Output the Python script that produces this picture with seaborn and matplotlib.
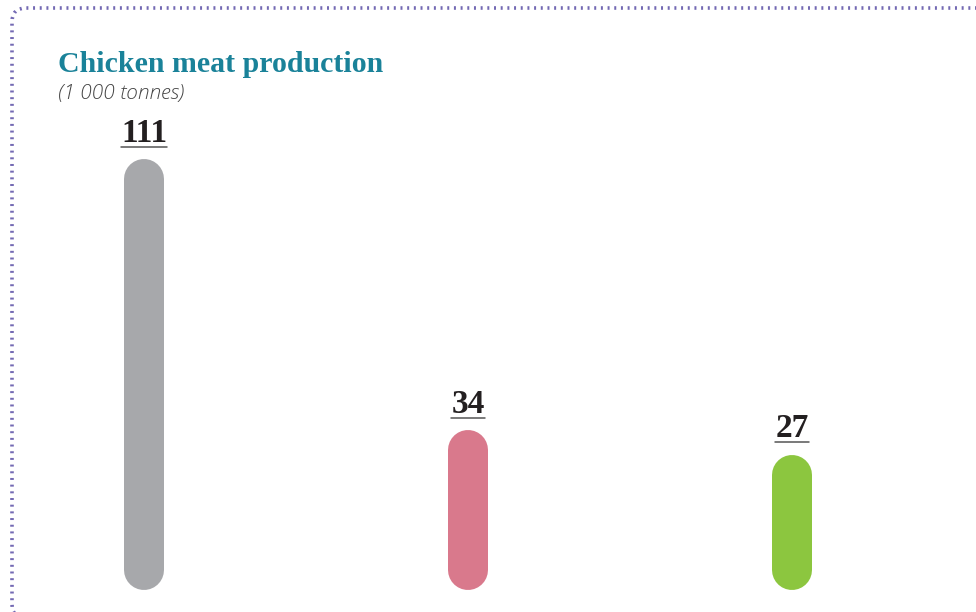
import matplotlib
matplotlib.use("Agg")
import matplotlib.pyplot as plt
from matplotlib.patches import FancyBboxPatch
from matplotlib.lines import Line2D
from matplotlib.transforms import IdentityTransform
import seaborn as sns

# data
categories = ["A", "B", "C"]
values = [111, 34, 27]
colors = ["#a7a8ab", "#d9798c", "#8cc63f"]

sns.set_theme(style="white")

DPI = 100
fig = plt.figure(figsize=(9.76, 6.12), dpi=DPI)
ax = fig.add_axes([0, 0, 1, 1])

# pixel layout helpers
px_per_unit = 3.52      # vertical scale
base_px = 612 - 570     # data zero, px from figure bottom
x_px = 324              # px between bars
lw_pt = 40 * 72 / DPI   # bar thickness 40px

labels = []
for i, (cat, v, c) in enumerate(zip(categories, values, colors)):
    sns.lineplot(x=[i, i], y=[0, v], estimator=None, sort=False, color=c,
                 linewidth=lw_pt, solid_capstyle="round", ax=ax)
    t = ax.annotate(str(v), xy=(i, v), xytext=(0, 27),
                    textcoords="offset points", ha="center", va="baseline",
                    fontsize=24, fontweight="bold", family="Liberation Serif",
                    color="#231f20")
    labels.append(t)

ax.set_xlim(-144 / x_px, (976 - 144) / x_px)
ax.set_ylim(-base_px / px_per_unit, (612 - base_px) / px_per_unit)
ax.axis("off")

fig.text(58 / 976, 1 - 72 / 612, "Chicken meat production", fontsize=21.5,
         fontweight="bold", family="Liberation Serif", color="#1a8299",
         ha="left", va="baseline")
fig.text(58 / 976, 1 - 99 / 612, "(1 000 tonnes)", fontsize=15,
         style="italic", fontweight="light", family="Open Sans",
         color="#444444", ha="left", va="baseline")

# underline under value labels
fig.canvas.draw()
r = fig.canvas.get_renderer()
for t in labels:
    bb = t.get_window_extent(r)
    y = (bb.y0 + 2) / fig.bbox.height
    fig.add_artist(Line2D([bb.x0 / fig.bbox.width, bb.x1 / fig.bbox.width], [y, y],
                          transform=fig.transFigure, color="#555555", lw=1.1))

# dotted frame (pixel coordinates), bottom and right edges run off the figure
frame = FancyBboxPatch((12, -6), 1100, 610,
                       boxstyle="round,pad=0,rounding_size=14",
                       transform=IdentityTransform(), fill=False,
                       edgecolor="#7369b3", linewidth=2.6,
                       linestyle=(0, (0.55, 1.3)))
fig.add_artist(frame)

fig.savefig("out.png", dpi=DPI)
